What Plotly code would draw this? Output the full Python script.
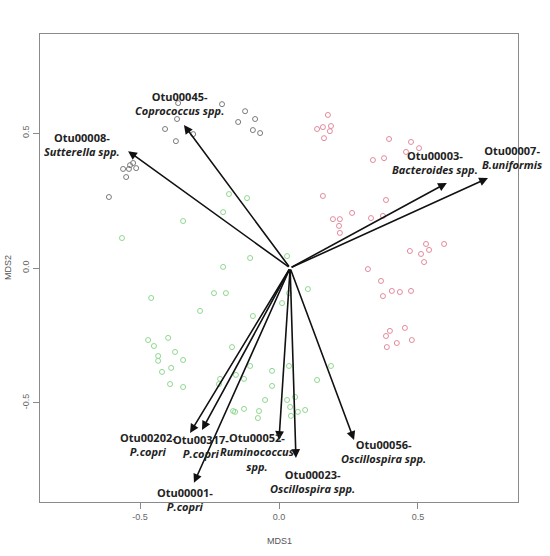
import plotly.graph_objects as go

# ---- sample scores (MDS1, MDS2) by group ----
gray_x = [-0.363, -0.205, -0.122, -0.367, -0.147, -0.086, -0.094, -0.068, -0.410, -0.309,
          -0.371, -0.525, -0.536, -0.514, -0.540, -0.561, -0.550, -0.612]
gray_y = [0.611, 0.607, 0.581, 0.552, 0.541, 0.552, 0.511, 0.500, 0.515, 0.496,
          0.470, 0.389, 0.381, 0.370, 0.367, 0.367, 0.337, 0.263]

red_x = [0.176, 0.137, 0.158, 0.187, 0.183, 0.162, 0.396, 0.475, 0.504, 0.457,
         0.338, 0.378, 0.158, 0.385, 0.263, 0.194, 0.219, 0.216, 0.219, 0.331,
         0.374, 0.529, 0.594, 0.471, 0.540, 0.511, 0.522, 0.320, 0.367, 0.406,
         0.435, 0.475, 0.374, 0.453, 0.399, 0.385, 0.478, 0.424, 0.388]
red_y = [0.567, 0.515, 0.522, 0.526, 0.507, 0.481, 0.478, 0.467, 0.444, 0.430,
         0.400, 0.407, 0.267, 0.252, 0.204, 0.181, 0.181, 0.156, 0.130, 0.185,
         0.193, 0.089, 0.089, 0.063, 0.067, 0.052, 0.022, -0.004, -0.048, -0.085,
         -0.089, -0.085, -0.104, -0.222, -0.233, -0.252, -0.267, -0.278, -0.293]

green_x = [-0.565, -0.345, -0.180, -0.115, -0.201, 0.029, -0.104, -0.201, -0.234, -0.191,
           -0.460, 0.011, -0.284, -0.094, -0.399, -0.471, -0.450, -0.374, -0.435, -0.435,
           -0.345, -0.169, -0.388, -0.421, -0.104, -0.025, -0.392, -0.345, -0.212, -0.216,
           -0.155, -0.126, -0.025, 0.036, 0.029, 0.058, -0.050, 0.040, -0.165, -0.126,
           -0.072, -0.076, 0.043, 0.104, 0.036, 0.187, 0.137, 0.068, 0.094, -0.158]
green_y = [0.111, 0.174, 0.274, 0.259, 0.207, 0.044, 0.037, 0.004, -0.093, -0.093,
           -0.111, -0.130, -0.159, -0.178, -0.259, -0.267, -0.289, -0.311, -0.326, -0.344,
           -0.341, -0.293, -0.370, -0.385, -0.363, -0.381, -0.430, -0.441, -0.411, -0.430,
           -0.396, -0.411, -0.437, -0.363, -0.489, -0.478, -0.489, -0.515, -0.530, -0.522,
           -0.530, -0.556, -0.548, -0.078, -0.093, -0.363, -0.415, -0.533, -0.526, -0.533]

# ---- OTU vectors ----
arrow_origin = [0.04, 0.0]
otu_ids = ["Otu00008", "Otu00045", "Otu00003", "Otu00007", "Otu00202",
           "Otu00317", "Otu00001", "Otu00052", "Otu00023", "Otu00056"]
otu_taxa = ["Sutterella spp.", "Coprococcus spp.", "Bacteroides spp.", "B.uniformis", "P.copri",
            "P.copri", "P.copri", "Ruminococcus<br>spp.", "Oscillospira spp.", "Oscillospira spp."]
otu_x = [-0.543, -0.342, 0.604, 0.752, -0.320, -0.277, -0.306, 0.000, 0.061, 0.270]
otu_y = [0.433, 0.530, 0.315, 0.333, -0.611, -0.600, -0.796, -0.637, -0.704, -0.637]

# label offsets from arrow tips (pixels)
label_dx = [-46, -4, -12, 24, -42, -1, -9, -22, 17, 29]
label_dy = [7, 21, 20, 21, -12, -17, -17, -12, -23, -12]

fig = go.Figure()
fig.add_trace(go.Scatter(x=gray_x, y=gray_y, mode="markers",
                         marker=dict(symbol="circle-open", size=5, color="#7a7a7a",
                                     line=dict(width=1)), showlegend=False))
fig.add_trace(go.Scatter(x=red_x, y=red_y, mode="markers",
                         marker=dict(symbol="circle-open", size=5, color="#e48a9c",
                                     line=dict(width=1)), showlegend=False))
fig.add_trace(go.Scatter(x=green_x, y=green_y, mode="markers",
                         marker=dict(symbol="circle-open", size=5, color="#8fd88f",
                                     line=dict(width=1)), showlegend=False))

annotations = []
for i in range(len(otu_ids)):
    annotations.append(dict(
        x=otu_x[i], y=otu_y[i], ax=arrow_origin[0], ay=arrow_origin[1],
        xref="x", yref="y", axref="x", ayref="y", text="",
        showarrow=True, arrowhead=2, arrowsize=1.1, arrowwidth=1.6,
        arrowcolor="#111111", standoff=0, startstandoff=0))
for i in range(len(otu_ids)):
    annotations.append(dict(
        x=otu_x[i], y=otu_y[i], xref="x", yref="y", showarrow=False,
        text="<b>" + otu_ids[i] + "-</b><br><b><i>" + otu_taxa[i] + "</i></b>",
        xshift=label_dx[i], yshift=label_dy[i], align="center",
        font=dict(family="Open Sans", size=11, color="#222222")))

annotations.append(dict(x=0.5, y=0, xref="paper", yref="paper", text="MDS1",
                        showarrow=False, yshift=-39, xanchor="center", yanchor="middle",
                        font=dict(family="Arial", size=9, color="#555555")))
annotations.append(dict(x=0, y=0.5, xref="paper", yref="paper", text="MDS2",
                        showarrow=False, xshift=-32, textangle=-90, xanchor="center",
                        yanchor="middle", font=dict(family="Arial", size=9, color="#555555")))

fig.update_layout(
    width=550, height=556,
    margin=dict(l=40, r=32, t=34, b=54),
    paper_bgcolor="white", plot_bgcolor="white",
    annotations=annotations,
    xaxis=dict(range=[-0.86, 0.86], tickvals=[-0.5, 0.0, 0.5], ticktext=["-0.5", "0.0", "0.5"],
               showgrid=False, zeroline=False, showline=True, mirror=True,
               linecolor="#8a8a8a", linewidth=1, ticks="outside", ticklen=6,
               tickcolor="#8a8a8a", tickfont=dict(family="Arial", size=9, color="#666666")),
    yaxis=dict(range=[-0.867, 0.867], tickvals=[-0.5, 0.0, 0.5], ticktext=["-0.5", "0.0", "0.5"],
               showgrid=False, zeroline=False, showline=True, mirror=True,
               linecolor="#8a8a8a", linewidth=1, ticks="outside", ticklen=6,
               tickcolor="#8a8a8a", tickangle=-90,
               tickfont=dict(family="Arial", size=9, color="#666666")),
)

fig.write_html("out.html")
